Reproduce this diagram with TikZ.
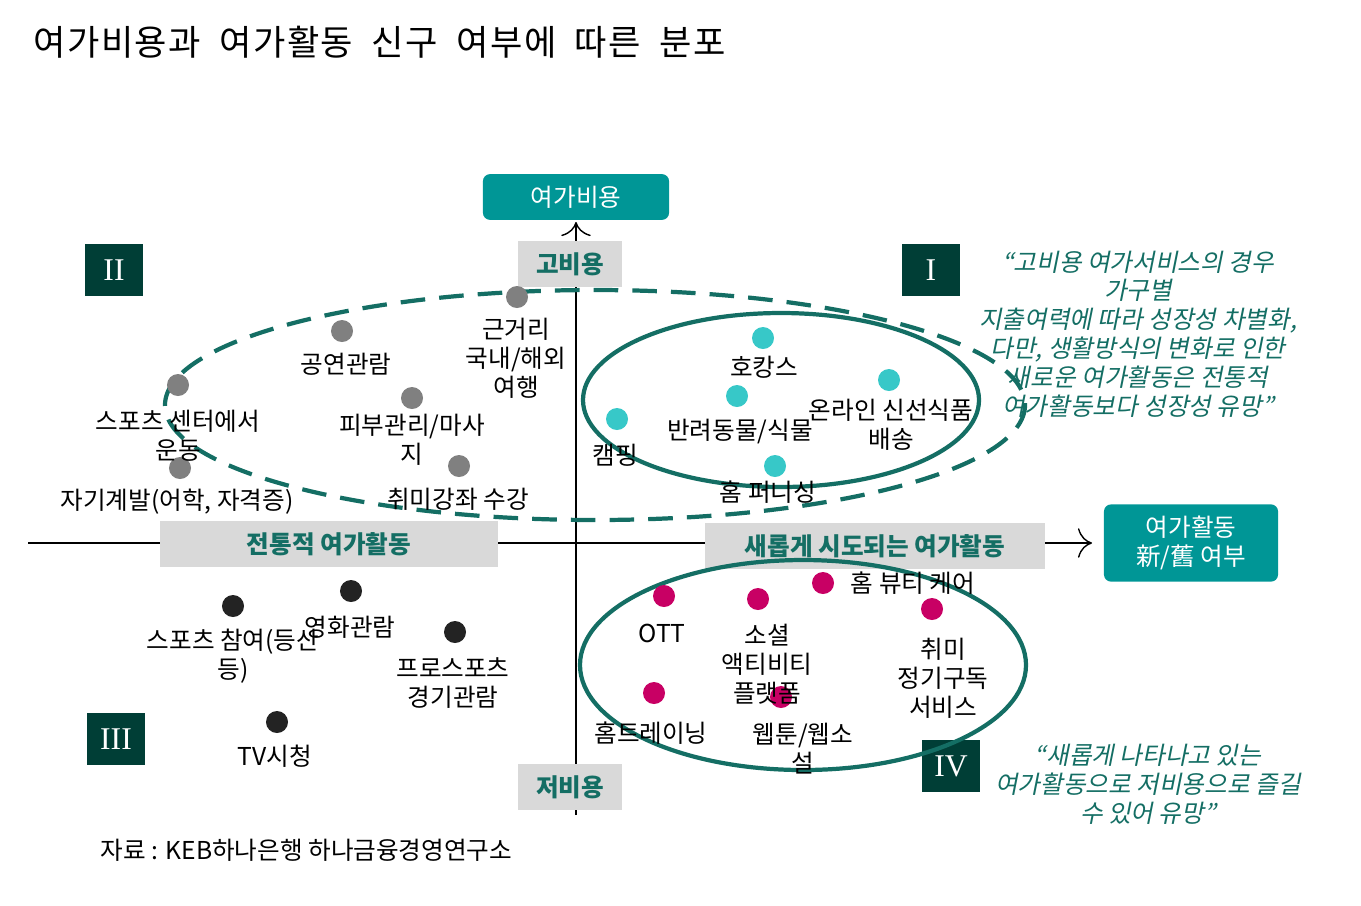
\documentclass[tikz,border=0pt]{standalone}
\usepackage{fontspec}
\usetikzlibrary{arrows.meta}
\setmainfont{Noto Sans CJK KR}
\newfontfamily\quotefont{Noto Sans CJK KR}[FakeSlant=0.2]
\newfontfamily\titlefont{Noto Sans CJK KR}[LetterSpace=4,WordSpace=2]
\newfontfamily\numfont{Liberation Serif}
\definecolor{teal1}{RGB}{0,150,150}
\definecolor{teal2}{RGB}{20,110,100}
\definecolor{darkgr}{RGB}{0,62,54}
\definecolor{boxgray}{RGB}{217,217,217}
\definecolor{dotgray}{RGB}{128,128,128}
\definecolor{dotcyan}{RGB}{55,200,200}
\definecolor{dotblack}{RGB}{35,35,35}
\definecolor{dotpink}{RGB}{200,0,100}
\tikzset{
  lbl/.style={align=center,font=\fontsize{7}{8.2}\selectfont,inner sep=0pt},
  axisbox/.style={fill=teal1,rounded corners=2pt,text=white,align=center,font=\fontsize{7}{8.2}\selectfont},
  graybox/.style={fill=boxgray,text=teal2,font=\fontsize{7}{8.2}\selectfont\bfseries,minimum height=0.42cm},
  quad/.style={fill=darkgr,text=white,font=\numfont\fontsize{9}{9}\selectfont,minimum width=0.58cm,minimum height=0.52cm},
  dot/.style={circle,inner sep=0pt,minimum size=0.22cm},
  quote/.style={align=center,text=teal2,font=\quotefont\fontsize{7}{8.2}\selectfont},
}
\begin{document}
\begin{tikzpicture}[x=0.01cm,y=-0.01cm]
\useasboundingbox (0,0) rectangle (1361,905);
\node[anchor=west,inner sep=0pt,font=\titlefont\fontsize{10}{11}\selectfont] (title) at (33,42) {여가비용과 여가활동 신구 여부에 따른 분포};
% axes
\coordinate (ytop) at (576,222);
\coordinate (ybot) at (576,815);
\coordinate (xleft) at (28,543);
\coordinate (xright) at (1092,543);
\draw[-{To[length=4pt]}] (ybot) -- (ytop);
\draw[-{To[length=4pt]}] (xleft) -- (xright);
\node[axisbox,minimum width=1.86cm,minimum height=0.42cm] (cost) at (576,197) {여가비용};
\node[axisbox,minimum width=1.74cm,minimum height=0.64cm] (act) at (1191,543) {여가활동\\新/舊 여부};
\node[graybox,minimum width=1.04cm] (high) at (570,264) {고비용};
\node[graybox,minimum width=1.04cm] (low) at (570,787) {저비용};
\node[graybox,minimum width=3.38cm] (trad) at (329,544) {전통적 여가활동};
\node[graybox,minimum width=3.39cm] (new) at (875,546) {새롭게 시도되는 여가활동};
\node[quad] (q2) at (114,270) {II};
\node[quad] (q1) at (931,270) {I};
\node[quad] (q3) at (116,739) {III};
\node[quad] (q4) at (951,766) {IV};
% ellipses
\draw[teal2,line width=1.2pt,dash pattern=on 7pt off 4pt] (595,405) ellipse [x radius=430,y radius=115];
\draw[teal2,line width=1.2pt] (781,400) ellipse [x radius=198,y radius=87];
\draw[teal2,line width=1.2pt] (803,665) ellipse [x radius=223,y radius=105];
% traditional, high cost
\foreach \n/\p in {g1/{178,385},g2/{342,331},g3/{517,297},g4/{412,398},g5/{459,466},g6/{180,468}}
  \node[dot,fill=dotgray] (\n) at (\p) {};
\node[lbl] (l-concert) at (346,364) {공연관람};
\node[lbl] (l-trip) at (516,358) {근거리\\국내/해외\\여행};
\node[lbl] (l-gym) at (178,436) {스포츠 센터에서\\운동};
\node[lbl] (l-skin) at (412,440) {피부관리/마사\\지};
\node[lbl] (l-self) at (177,502) {자기계발(어학, 자격증)};
\node[lbl] (l-class) at (458,499) {취미강좌 수강};
% new, high cost
\foreach \n/\p in {c1/{763,338},c2/{737,396},c3/{617,419},c4/{889,380},c5/{775,466}}
  \node[dot,fill=dotcyan] (\n) at (\p) {};
\node[lbl] (l-hocance) at (764,367) {호캉스};
\node[lbl] (l-pet) at (740,432) {반려동물/식물};
\node[lbl] (l-camp) at (615,455) {캠핑};
\node[lbl] (l-food) at (891,425) {온라인 신선식품\\배송};
\node[lbl] (l-furn) at (768,492) {홈 퍼니싱};
% traditional, low cost
\foreach \n/\p in {b1/{233,606},b2/{351,591},b3/{455,632},b4/{277,722}}
  \node[dot,fill=dotblack] (\n) at (\p) {};
\node[lbl] (l-sport) at (233,656) {스포츠 참여(등산\\등)};
\node[lbl] (l-movie) at (350,627) {영화관람};
\node[lbl] (l-pro) at (453,683) {프로스포츠\\경기관람};
\node[lbl] (l-tv) at (275,756) {TV시청};
% new, low cost
\foreach \n/\p in {m1/{664,596},m2/{758,599},m3/{823,583},m4/{932,609},m5/{654,693},m6/{781,697}}
  \node[dot,fill=dotpink] (\n) at (\p) {};
\node[lbl] (l-ott) at (662,633) {OTT};
\node[lbl] (l-social) at (767,664) {소셜\\액티비티\\플랫폼};
\node[lbl] (l-beauty) at (913,583) {홈 뷰티 케어};
\node[lbl] (l-sub) at (943,678) {취미\\정기구독\\서비스};
\node[lbl] (l-train) at (651,733) {홈트레이닝};
\node[lbl] (l-toon) at (803,749) {웹툰/웹소\\설};
% comments
\node[quote] (note1) at (1138,334) {“고비용 여가서비스의 경우\\가구별\\지출여력에 따라 성장성 차별화,\\다만, 생활방식의 변화로 인한\\새로운 여가활동은 전통적\\여가활동보다 성장성 유망”};
\node[quote] (note2) at (1148,784) {“새롭게 나타나고 있는\\여가활동으로 저비용으로 즐길\\수 있어 유망”};
\node[anchor=west,lbl] (source) at (100,850) {자료 : KEB하나은행 하나금융경영연구소};
\end{tikzpicture}
\end{document}
